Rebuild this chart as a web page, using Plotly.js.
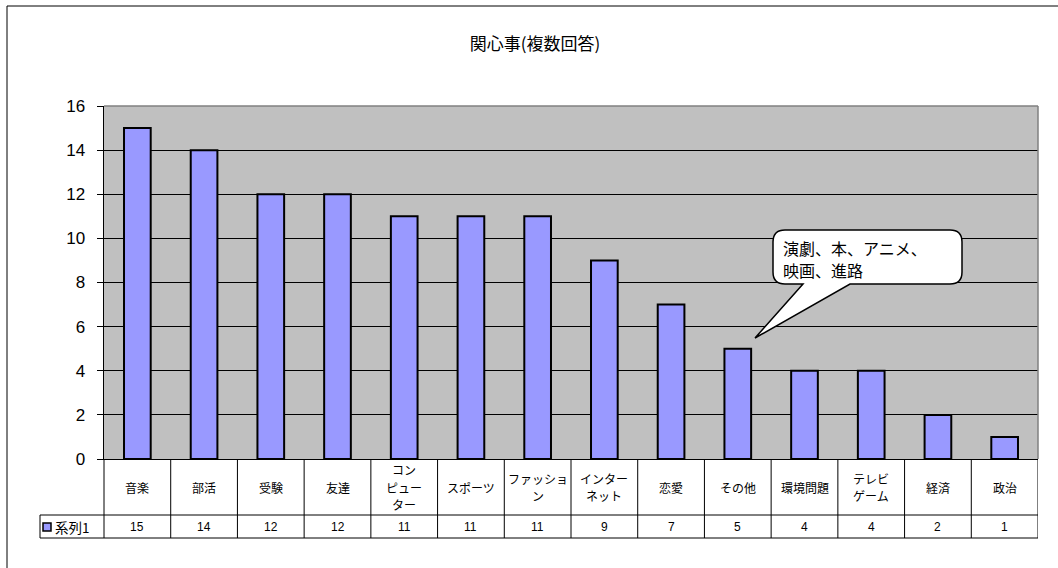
<!DOCTYPE html>
<html>
<head>
<meta charset="utf-8">
<script src="https://cdn.plot.ly/plotly-3.0.1.min.js"></script>
<style>html,body{margin:0;padding:0;background:#fff;}#chart{width:1058px;height:568px;}</style>
</head>
<body>
<div id="chart"></div>
<script>
// ---- data ----
const categories = ["音楽","部活","受験","友達","コンピューター","スポーツ","ファッション","インターネット","恋愛","その他","環境問題","テレビゲーム","経済","政治"];
const categoryLabelLines = [["音楽"],["部活"],["受験"],["友達"],["コン","ピュー","ター"],["スポーツ"],["ファッショ","ン"],["インター","ネット"],["恋愛"],["その他"],["環境問題"],["テレビ","ゲーム"],["経済"],["政治"]];
const values = [15,14,12,12,11,11,11,9,7,5,4,4,2,1];
const seriesName = "系列1";
const yTicks = [0,2,4,6,8,10,12,14,16];
const titleText = "関心事(複数回答)";
const calloutLines = ["演劇、本、アニメ、","映画、進路"];

// ---- geometry helpers (pixel -> paper) ----
const W = 1058, H = 568;
const L = 104, R = 1038, T = 106, B = 459;
const px = x => (x - L) / (R - L);
const py = y => (B - y) / (B - T);

const fontJP = "'Noto Sans CJK JP', 'Liberation Sans', sans-serif";
const fontNum = "'Liberation Sans', 'Noto Sans CJK JP', sans-serif";

const shapes = [];
const annotations = [];

// outer chart border
shapes.push({type:'rect', xref:'paper', yref:'paper', x0:px(7), x1:px(1075), y0:py(6), y1:py(590),
  line:{color:'#000', width:1}, fillcolor:'rgba(0,0,0,0)', layer:'below'});

// plot area gray top/right border
shapes.push({type:'line', xref:'paper', yref:'paper', x0:0, x1:1, y0:1, y1:1, line:{color:'#808080', width:1.5}});
shapes.push({type:'line', xref:'paper', yref:'paper', x0:1, x1:1, y0:0, y1:1, line:{color:'#808080', width:1.5}});

// data table
const rowTop = py(459), rowMid = py(515), rowBot = py(538);
shapes.push({type:'line', xref:'paper', yref:'paper', x0:px(40), x1:1, y0:rowMid, y1:rowMid, line:{color:'#000', width:1}});
shapes.push({type:'line', xref:'paper', yref:'paper', x0:px(40), x1:1, y0:rowBot, y1:rowBot, line:{color:'#000', width:1}});
shapes.push({type:'line', xref:'paper', yref:'paper', x0:px(40), x1:px(40), y0:rowMid, y1:rowBot, line:{color:'#000', width:1}});
shapes.push({type:'line', xref:'paper', yref:'paper', x0:0, x1:0, y0:rowTop, y1:rowBot, line:{color:'#000', width:1}});
const lineStep = 17.5, catCenter = 487;
for (let i = 0; i < categories.length; i++) {
  shapes.push({type:'line', xref:'x', yref:'paper', x0:i+0.5, x1:i+0.5, y0:rowTop, y1:rowBot, line:{color:'#000', width:1}});
  const lines = categoryLabelLines[i];
  const start = catCenter - (lines.length - 1) * lineStep / 2;
  lines.forEach((t, k) => {
    annotations.push({xref:'x', yref:'paper', x:categories[i], y:py(start + k * lineStep), text:t, showarrow:false,
      xanchor:'center', yanchor:'middle', align:'center', font:{family:fontJP, size:12, color:'#000'}});
  });
  annotations.push({xref:'x', yref:'paper', x:categories[i], y:py(527), text:String(values[i]), showarrow:false,
    xanchor:'center', yanchor:'middle', font:{family:fontNum, size:12, color:'#000'}});
}
// legend key in table
shapes.push({type:'rect', xref:'paper', yref:'paper', x0:px(43), x1:px(51), y0:py(531), y1:py(523),
  fillcolor:'#9999ff', line:{color:'#000', width:1.5}});
annotations.push({xref:'paper', yref:'paper', x:px(53), y:py(527), text:seriesName, showarrow:false,
  xanchor:'left', yanchor:'middle', font:{family:fontJP, size:13.5, color:'#000'}});

// callout bubble
const bubble = [[785,230],[950,230],['Q',962,230,962,242],[962,272],['Q',962,284,950,284],[850,284],[755,338],[803,284],[785,284],['Q',773,284,773,272],[773,242],['Q',773,230,785,230]];
let path = '';
bubble.forEach((p, k) => {
  if (p[0] === 'Q') path += ` Q ${px(p[1])},${py(p[2])} ${px(p[3])},${py(p[4])}`;
  else path += (k === 0 ? 'M ' : ' L ') + px(p[0]) + ',' + py(p[1]);
});
path += ' Z';
shapes.push({type:'path', xref:'paper', yref:'paper', path:path, fillcolor:'#fff', line:{color:'#000', width:1.5}, layer:'above'});
calloutLines.forEach((t, k) => {
  annotations.push({xref:'paper', yref:'paper', x:px(781), y:py(248 + k * 22), text:t, showarrow:false,
    xanchor:'left', yanchor:'middle', align:'left', font:{family:fontJP, size:16, color:'#000'}});
});

const trace = {
  type:'bar', x:categories, y:values, name:seriesName,
  marker:{color:'#9999ff', line:{color:'#000', width:2}},
  hoverinfo:'x+y'
};

const layout = {
  width:W, height:H,
  margin:{l:L, r:W-R, t:T, b:H-B, pad:0},
  paper_bgcolor:'#fff', plot_bgcolor:'#c0c0c0',
  showlegend:false,
  bargap:0.6,
  title:{text:titleText, x:px(535), xref:'paper', xanchor:'center', y:1-44/H, yanchor:'middle', font:{family:fontJP, size:17, color:'#000'}},
  xaxis:{type:'category', range:[-0.5, categories.length-0.5], showticklabels:false, ticks:'', showgrid:false,
    showline:true, linecolor:'#000', linewidth:1, zeroline:false, fixedrange:true},
  yaxis:{range:[0,16], tickvals:yTicks, ticktext:yTicks.map(String), ticks:'outside', ticklen:6, tickcolor:'#000',
    showgrid:true, gridcolor:'#000', gridwidth:1, showline:true, linecolor:'#000', linewidth:1.5, zeroline:false,
    ticklabelstandoff:8, tickfont:{family:fontNum, size:17, color:'#000'}, fixedrange:true},
  shapes:shapes,
  annotations:annotations
};

Plotly.newPlot('chart', [trace], layout, {displayModeBar:false, staticPlot:true});
</script>
</body>
</html>
